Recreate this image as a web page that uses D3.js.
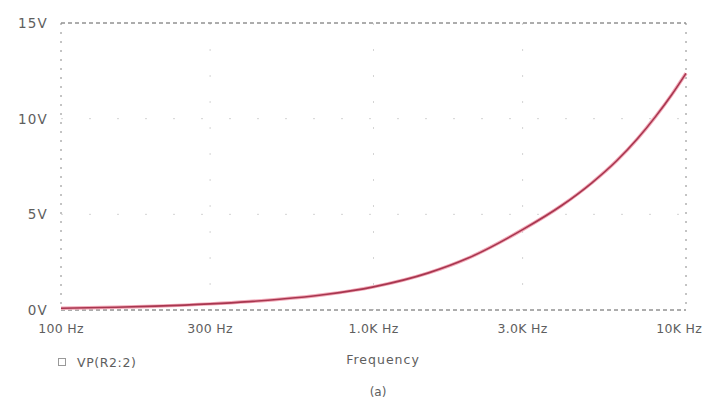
<!DOCTYPE html>
<html><head><meta charset="utf-8">
<script src="https://cdn.jsdelivr.net/npm/d3@7"></script>
<style>
html,body{margin:0;padding:0;background:#fff;}
text{font-family:"DejaVu Sans",sans-serif;fill:#5e5e5e;}
</style></head>
<body><svg id="c" width="711" height="402"></svg>
<script>
const freqs = [100,150,200,300,400,500,700,1000,1500,2000,3000,4000,5000,6000,7000,8000,9000,10000];
const volts = [0.09,0.14,0.2,0.32,0.44,0.56,0.81,1.21,1.94,2.7,4.2,5.46,6.65,7.8,8.96,10.12,11.25,12.37];
const xTicks = [100,300,1000,3000,10000];
const xTickLabels = ["100 Hz","300 Hz","1.0K Hz","3.0K Hz","10K Hz"];
const yTicks = [0,5,10,15];
const yTickLabels = ["0V","5V","10V","15V"];
const seriesName = "VP(R2:2)";
const xTitle = "Frequency";
const caption = "(a)";

const svg = d3.select("#c");
const L=61, R=686, T=23, B=310;
const x = d3.scaleLog().domain([100,10000]).range([L,R]);
const y = d3.scaleLinear().domain([0,15]).range([B,T]);

// grid
const g = svg.append("g");
g.selectAll("line.vg").data(xTicks.slice(1,-1)).join("line")
  .attr("x1",d=>x(d)).attr("x2",d=>x(d)).attr("y1",T).attr("y2",B)
  .attr("stroke","#d4d4d4").attr("stroke-width",1).attr("stroke-dasharray","2,24");
g.selectAll("line.hg").data(yTicks.slice(1,-1)).join("line")
  .attr("y1",d=>y(d)).attr("y2",d=>y(d)).attr("x1",L).attr("x2",R)
  .attr("stroke","#d4d4d4").attr("stroke-width",1).attr("stroke-dasharray","2,26");

// frame
svg.append("line").attr("x1",L).attr("x2",R).attr("y1",T).attr("y2",T)
  .attr("stroke","#5a5a5a").attr("stroke-dasharray","4,3");
svg.append("line").attr("x1",L).attr("x2",R).attr("y1",B).attr("y2",B)
  .attr("stroke","#5a5a5a").attr("stroke-dasharray","4,3");
svg.append("line").attr("x1",L).attr("x2",L).attr("y1",T).attr("y2",B)
  .attr("stroke","#888").attr("stroke-dasharray","2,7");
svg.append("line").attr("x1",R).attr("x2",R).attr("y1",T).attr("y2",B)
  .attr("stroke","#888").attr("stroke-dasharray","2,7");

// curve
const line = d3.line().x((d,i)=>x(freqs[i])).y(d=>y(d)).curve(d3.curveMonotoneX);
svg.append("path").datum(volts).attr("d",line).attr("fill","none")
  .attr("stroke","#f2a9b8").attr("stroke-width",3.5);
svg.append("path").datum(volts).attr("d",line).attr("fill","none")
  .attr("stroke","#a8364f").attr("stroke-width",1.6);

// y labels
svg.selectAll("text.yl").data(yTicks).join("text")
  .attr("x",48).attr("y",d=>y(d)).attr("dy","0.36em").attr("text-anchor","end")
  .attr("font-size",13.5).attr("letter-spacing","1.2").text((d,i)=>yTickLabels[i]);

// x labels
svg.selectAll("text.xl").data(xTicks).join("text")
  .attr("x",(d,i)=> i===xTicks.length-1 ? 702 : x(d))
  .attr("y",333).attr("text-anchor",(d,i)=> i===xTicks.length-1 ? "end" : "middle")
  .attr("font-size",12.5).attr("letter-spacing","0.3").text((d,i)=>xTickLabels[i]);

// legend
svg.append("rect").attr("x",58.5).attr("y",358.5).attr("width",7).attr("height",7)
  .attr("fill","none").attr("stroke","#999");
svg.append("text").attr("x",77).attr("y",367).attr("font-size",12.5).attr("letter-spacing","0.6").text(seriesName);
svg.append("text").attr("x",383).attr("y",364).attr("text-anchor","middle").attr("font-size",12.5).attr("letter-spacing","1").text(xTitle);
svg.append("text").attr("x",378).attr("y",396).attr("text-anchor","middle").attr("font-size",12).text(caption);
</script></body></html>
